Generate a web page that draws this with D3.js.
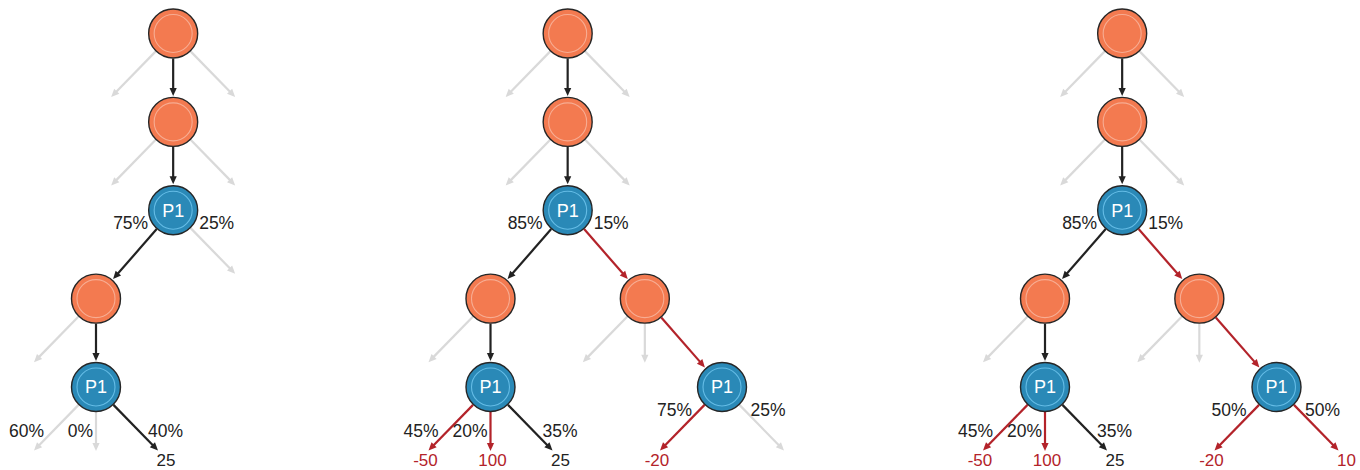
<!DOCTYPE html>
<html>
<head>
<meta charset="utf-8">
<script src="https://cdn.jsdelivr.net/npm/d3@7"></script>
<style>
  html, body { margin: 0; padding: 0; background: #ffffff; }
  svg { display: block; }
</style>
</head>
<body>
<svg id="chart" width="1360" height="470"></svg>
<script>
// ---------------- DATA ----------------
const panels = ["tree 1", "tree 2", "tree 3"];

// decision / chance nodes: kind, depth (row), column (relative to root)
const nodes = [
  { id: "a0", panel: 0, kind: "chance", depth: 0, col: 0 },
  { id: "a1", panel: 0, kind: "chance", depth: 1, col: 0 },
  { id: "a2", panel: 0, kind: "P1",     depth: 2, col: 0 },
  { id: "a3", panel: 0, kind: "chance", depth: 3, col: -1 },
  { id: "a4", panel: 0, kind: "P1",     depth: 4, col: -1 },

  { id: "b0", panel: 1, kind: "chance", depth: 0, col: 0 },
  { id: "b1", panel: 1, kind: "chance", depth: 1, col: 0 },
  { id: "b2", panel: 1, kind: "P1",     depth: 2, col: 0 },
  { id: "b3", panel: 1, kind: "chance", depth: 3, col: -1 },
  { id: "b4", panel: 1, kind: "P1",     depth: 4, col: -1 },
  { id: "b5", panel: 1, kind: "chance", depth: 3, col: 1 },
  { id: "b6", panel: 1, kind: "P1",     depth: 4, col: 2 },

  { id: "c0", panel: 2, kind: "chance", depth: 0, col: 0 },
  { id: "c1", panel: 2, kind: "chance", depth: 1, col: 0 },
  { id: "c2", panel: 2, kind: "P1",     depth: 2, col: 0 },
  { id: "c3", panel: 2, kind: "chance", depth: 3, col: -1 },
  { id: "c4", panel: 2, kind: "P1",     depth: 4, col: -1 },
  { id: "c5", panel: 2, kind: "chance", depth: 3, col: 1 },
  { id: "c6", panel: 2, kind: "P1",     depth: 4, col: 2 }
];

// edges: from node, to node (or null = stub / outcome), branch side, state, probability label, outcome value
const edges = [
  // tree 1
  { from: "a0", to: null, side: "L", state: "off" },
  { from: "a0", to: "a1", side: "M", state: "on" },
  { from: "a0", to: null, side: "R", state: "off" },
  { from: "a1", to: null, side: "L", state: "off" },
  { from: "a1", to: "a2", side: "M", state: "on" },
  { from: "a1", to: null, side: "R", state: "off" },
  { from: "a2", to: "a3", side: "L", state: "on",  prob: "75%" },
  { from: "a2", to: null, side: "R", state: "off", prob: "25%" },
  { from: "a3", to: null, side: "L", state: "off" },
  { from: "a3", to: "a4", side: "M", state: "on" },
  { from: "a4", to: null, side: "L", state: "off", prob: "60%" },
  { from: "a4", to: null, side: "M", state: "off", prob: "0%" },
  { from: "a4", to: null, side: "R", state: "on",  prob: "40%", value: 25 },

  // tree 2
  { from: "b0", to: null, side: "L", state: "off" },
  { from: "b0", to: "b1", side: "M", state: "on" },
  { from: "b0", to: null, side: "R", state: "off" },
  { from: "b1", to: null, side: "L", state: "off" },
  { from: "b1", to: "b2", side: "M", state: "on" },
  { from: "b1", to: null, side: "R", state: "off" },
  { from: "b2", to: "b3", side: "L", state: "on",  prob: "85%" },
  { from: "b2", to: "b5", side: "R", state: "alt", prob: "15%" },
  { from: "b3", to: null, side: "L", state: "off" },
  { from: "b3", to: "b4", side: "M", state: "on" },
  { from: "b4", to: null, side: "L", state: "alt", prob: "45%", value: -50 },
  { from: "b4", to: null, side: "M", state: "alt", prob: "20%", value: 100 },
  { from: "b4", to: null, side: "R", state: "on",  prob: "35%", value: 25 },
  { from: "b5", to: null, side: "L", state: "off" },
  { from: "b5", to: null, side: "M", state: "off" },
  { from: "b5", to: "b6", side: "R", state: "alt" },
  { from: "b6", to: null, side: "L", state: "alt", prob: "75%", value: -20 },
  { from: "b6", to: null, side: "R", state: "off", prob: "25%" },

  // tree 3
  { from: "c0", to: null, side: "L", state: "off" },
  { from: "c0", to: "c1", side: "M", state: "on" },
  { from: "c0", to: null, side: "R", state: "off" },
  { from: "c1", to: null, side: "L", state: "off" },
  { from: "c1", to: "c2", side: "M", state: "on" },
  { from: "c1", to: null, side: "R", state: "off" },
  { from: "c2", to: "c3", side: "L", state: "on",  prob: "85%" },
  { from: "c2", to: "c5", side: "R", state: "alt", prob: "15%" },
  { from: "c3", to: null, side: "L", state: "off" },
  { from: "c3", to: "c4", side: "M", state: "on" },
  { from: "c4", to: null, side: "L", state: "alt", prob: "45%", value: -50 },
  { from: "c4", to: null, side: "M", state: "alt", prob: "20%", value: 100 },
  { from: "c4", to: null, side: "R", state: "on",  prob: "35%", value: 25 },
  { from: "c5", to: null, side: "L", state: "off" },
  { from: "c5", to: null, side: "M", state: "off" },
  { from: "c5", to: "c6", side: "R", state: "alt" },
  { from: "c6", to: null, side: "L", state: "alt", prob: "50%", value: -20 },
  { from: "c6", to: null, side: "R", state: "alt", prob: "50%", value: 10 }
];

// ---------------- LAYOUT / STYLE ----------------
const panelX = d3.scaleOrdinal().domain(panels).range([173.5, 568, 1122.5]);
const depthY = d3.scaleLinear().domain([0, 4]).range([33.5, 387]);
const colX = d3.scaleLinear().domain([-1, 2]).range([-77.5, 154]);

const R = 24.5;
const stubOffset = { L: [-62, 63.5], M: [0, 64], R: [62, 63.5] };
const stateColor = { off: "#d9d9d9", on: "#222222", alt: "#b3232a" };
const nodeFill = { chance: "#f37a50", P1: "#2a89b7" };
const ringStroke = { chance: "rgba(255,255,255,0.38)", P1: "rgba(120,205,245,0.75)" };
const FONT = "'Liberation Sans', Arial, Helvetica, sans-serif";
const LABEL_SIZE = 17.5;

const byId = new Map();
nodes.forEach(n => {
  n.x = panelX(panels[n.panel]) + colX(n.col);
  n.y = depthY(n.depth);
  byId.set(n.id, n);
});

const svg = d3.select("#chart");
const gEdges = svg.append("g");
const gNodes = svg.append("g");
const gText = svg.append("g");

const childCount = d3.rollup(edges, v => v.length, d => d.from);
const hasNodeChild = d3.rollup(edges, v => v.some(f => f.to), d => d.from);

edges.forEach(e => {
  const p = byId.get(e.from);
  let tx, ty, gap;
  if (e.to) {
    const c = byId.get(e.to);
    tx = c.x; ty = c.y; gap = R + 1.5;
  } else {
    tx = p.x + stubOffset[e.side][0];
    ty = p.y + stubOffset[e.side][1];
    gap = 0;
  }
  const dx = tx - p.x, dy = ty - p.y;
  const len = Math.hypot(dx, dy);
  const ux = dx / len, uy = dy / len;
  const sx = p.x + ux * (R + 0.5), sy = p.y + uy * (R + 0.5);
  const tipX = tx - ux * gap, tipY = ty - uy * gap;
  const headL = 8, headW = 3.6;
  const col = stateColor[e.state];

  gEdges.append("line")
    .attr("x1", sx).attr("y1", sy)
    .attr("x2", tipX - ux * (headL - 1)).attr("y2", tipY - uy * (headL - 1))
    .attr("stroke", col)
    .attr("stroke-width", 2.2);

  const bx = tipX - ux * headL, by = tipY - uy * headL;
  const px = -uy, py = ux;
  gEdges.append("path")
    .attr("d", `M${tipX},${tipY}L${bx + px * headW},${by + py * headW}L${bx - px * headW},${by - py * headW}Z`)
    .attr("fill", col);

  // probability labels
  if (e.prob) {
    const n = childCount.get(e.from);
    let lx, ly, anchor;
    if (n === 3) {
      ly = p.y + 50;
      if (e.side === "L") { lx = p.x - 52; anchor = "end"; }
      else if (e.side === "M") { lx = p.x - 3; anchor = "end"; }
      else { lx = p.x + 52; anchor = "start"; }
    } else if (hasNodeChild.get(e.from)) {
      ly = p.y + 19;
      if (e.side === "L") { lx = p.x - 25; anchor = "end"; }
      else { lx = p.x + 26; anchor = "start"; }
    } else {
      ly = p.y + 29;
      if (e.side === "L") { lx = p.x - 30; anchor = "end"; }
      else { lx = p.x + 28.5; anchor = "start"; }
    }
    gText.append("text")
      .attr("x", lx).attr("y", ly)
      .attr("text-anchor", anchor)
      .attr("font-family", FONT)
      .attr("font-size", LABEL_SIZE)
      .attr("fill", "#222")
      .text(e.prob);
  }

  // outcome values
  if (e.value !== undefined) {
    const off = e.side === "L" ? -3 : (e.side === "M" ? 2 : 8);
    gText.append("text")
      .attr("x", tipX + off).attr("y", 466)
      .attr("text-anchor", "middle")
      .attr("font-family", FONT)
      .attr("font-size", 17)
      .attr("fill", e.state === "alt" ? "#b3232a" : "#222")
      .text(e.value);
  }
});

// nodes
const ng = gNodes.selectAll("g.node").data(nodes).join("g")
  .attr("class", "node")
  .attr("transform", d => `translate(${d.x},${d.y})`);

ng.append("circle")
  .attr("r", R)
  .attr("fill", d => nodeFill[d.kind])
  .attr("stroke", "#262626")
  .attr("stroke-width", 1.4);

ng.append("circle")
  .attr("r", 19)
  .attr("fill", "none")
  .attr("stroke", d => ringStroke[d.kind])
  .attr("stroke-width", 1.1);

ng.filter(d => d.kind === "P1").append("text")
  .attr("text-anchor", "middle")
  .attr("dy", "0.36em")
  .attr("font-family", FONT)
  .attr("font-size", 18)
  .attr("fill", "#ffffff")
  .text("P1");
</script>
</body>
</html>
